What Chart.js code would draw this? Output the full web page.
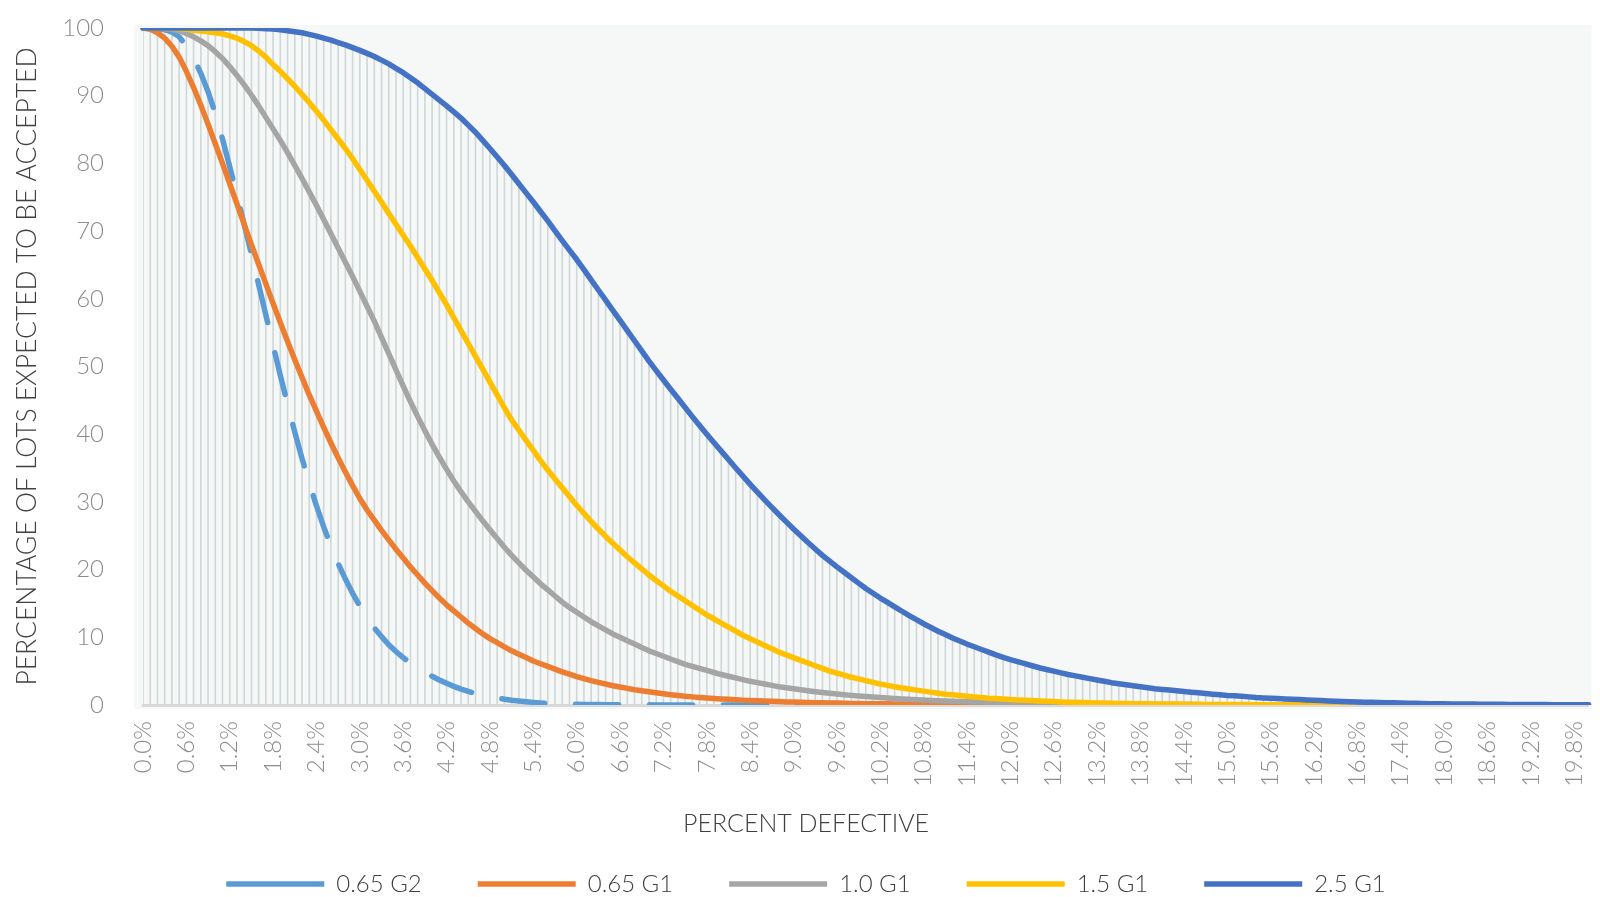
<!DOCTYPE html>
<html>
<head>
<meta charset="utf-8">
<script src="https://cdn.jsdelivr.net/npm/chart.js@4/dist/chart.umd.min.js"></script>
<style>
html,body{margin:0;padding:0;overflow:hidden;background:#ffffff;}
#wrap{width:1600px;height:897px;overflow:hidden;}
canvas{display:block;}
</style>
</head>
<body>
<div id="wrap"><canvas id="c" width="1603" height="906"></canvas></div>
<script>
const categories = [
"0.0%","0.1%","0.2%","0.3%","0.4%","0.5%","0.6%","0.7%","0.8%","0.9%",
"1.0%","1.1%","1.2%","1.3%","1.4%","1.5%","1.6%","1.7%","1.8%","1.9%",
"2.0%","2.1%","2.2%","2.3%","2.4%","2.5%","2.6%","2.7%","2.8%","2.9%",
"3.0%","3.1%","3.2%","3.3%","3.4%","3.5%","3.6%","3.7%","3.8%","3.9%",
"4.0%","4.1%","4.2%","4.3%","4.4%","4.5%","4.6%","4.7%","4.8%","4.9%",
"5.0%","5.1%","5.2%","5.3%","5.4%","5.5%","5.6%","5.7%","5.8%","5.9%",
"6.0%","6.1%","6.2%","6.3%","6.4%","6.5%","6.6%","6.7%","6.8%","6.9%",
"7.0%","7.1%","7.2%","7.3%","7.4%","7.5%","7.6%","7.7%","7.8%","7.9%",
"8.0%","8.1%","8.2%","8.3%","8.4%","8.5%","8.6%","8.7%","8.8%","8.9%",
"9.0%","9.1%","9.2%","9.3%","9.4%","9.5%","9.6%","9.7%","9.8%","9.9%",
"10.0%","10.1%","10.2%","10.3%","10.4%","10.5%","10.6%","10.7%","10.8%","10.9%",
"11.0%","11.1%","11.2%","11.3%","11.4%","11.5%","11.6%","11.7%","11.8%","11.9%",
"12.0%","12.1%","12.2%","12.3%","12.4%","12.5%","12.6%","12.7%","12.8%","12.9%",
"13.0%","13.1%","13.2%","13.3%","13.4%","13.5%","13.6%","13.7%","13.8%","13.9%",
"14.0%","14.1%","14.2%","14.3%","14.4%","14.5%","14.6%","14.7%","14.8%","14.9%",
"15.0%","15.1%","15.2%","15.3%","15.4%","15.5%","15.6%","15.7%","15.8%","15.9%",
"16.0%","16.1%","16.2%","16.3%","16.4%","16.5%","16.6%","16.7%","16.8%","16.9%",
"17.0%","17.1%","17.2%","17.3%","17.4%","17.5%","17.6%","17.7%","17.8%","17.9%",
"18.0%","18.1%","18.2%","18.3%","18.4%","18.5%","18.6%","18.7%","18.8%","18.9%",
"19.0%","19.1%","19.2%","19.3%","19.4%","19.5%","19.6%","19.7%","19.8%","19.9%",
"20.0%"
];

const seriesNames = ["0.65 G2", "0.65 G1", "1.0 G1", "1.5 G1", "2.5 G1"];

const aql065G2 = [
100,100,99.9,99.75,99.4,98.7,97.4,95.6,93.3,90.6,
87.4,83.6,79.5,75.3,71.0,66.6,62.1,57.6,53.1,48.7,
44.4,40.3,36.4,32.8,29.4,26.3,23.5,20.9,18.6,16.5,
14.6,12.9,11.4,10.1,8.9,7.9,7.0,6.2,5.5,4.85,
4.25,3.7,3.2,2.75,2.35,2.0,1.7,1.45,1.22,1.02,
0.85,0.7,0.58,0.47,0.38,0.31,0.25,0.2,0.16,0.13,
0.1,0.08,0.07,0.06,0.05,0.04,0.03,0.03,0.02,0.02,
0.02,0.01,0.01,0.01,0.01,0.01,0.01,0.01,0.01,0.01,
0.01,0,0,0,0,0,0,0,0,0,
0,0,0,0,0,0,0,0,0,0,
0,0,0,0,0,0,0,0,0,0,
0,0,0,0,0,0,0,0,0,0,
0,0,0,0,0,0,0,0,0,0,
0,0,0,0,0,0,0,0,0,0,
0,0,0,0,0,0,0,0,0,0,
0,0,0,0,0,0,0,0,0,0,
0,0,0,0,0,0,0,0,0,0,
0,0,0,0,0,0,0,0,0,0,
0,0,0,0,0,0,0,0,0,0,
0,0,0,0,0,0,0,0,0,0,
0
];

const aql065G1 = [
100,99.8,99.3,98.5,97.3,95.7,93.6,91.2,88.6,85.8,
82.9,80.0,77.0,74.0,71.0,68.0,65.1,62.2,59.3,56.5,
53.7,51.0,48.4,45.8,43.4,41.0,38.7,36.5,34.4,32.4,
30.5,28.8,27.3,25.8,24.4,23.0,21.7,20.4,19.2,18.0,
16.9,15.8,14.8,13.9,13.0,12.1,11.3,10.5,9.8,9.2,
8.6,8.0,7.5,7.0,6.5,6.1,5.7,5.3,4.9,4.55,
4.2,3.9,3.6,3.35,3.1,2.85,2.65,2.45,2.25,2.1,
1.95,1.8,1.65,1.52,1.4,1.3,1.2,1.12,1.04,0.97,
0.9,0.84,0.78,0.72,0.67,0.62,0.58,0.54,0.5,0.46,
0.43,0.4,0.37,0.34,0.32,0.3,0.28,0.26,0.24,0.22,
0.2,0.19,0.18,0.17,0.16,0.15,0.14,0.13,0.12,0.11,
0.1,0.1,0.09,0.09,0.08,0.08,0.07,0.07,0.06,0.06,
0.05,0.05,0.05,0.04,0.04,0.04,0.03,0.03,0.03,0.03,
0.02,0.02,0.02,0.02,0.02,0.02,0.02,0.02,0.02,0.02,
0.02,0.01,0.01,0.01,0.01,0.01,0.01,0.01,0.01,0.01,
0.01,0.01,0.01,0.01,0.01,0.01,0.01,0.01,0.01,0.01,
0,0,0,0,0,0,0,0,0,0,
0,0,0,0,0,0,0,0,0,0,
0,0,0,0,0,0,0,0,0,0,
0,0,0,0,0,0,0,0,0,0,
0
];

const aql10G1 = [
100,100,99.98,99.9,99.8,99.6,99.2,98.7,98.1,97.4,
96.5,95.5,94.3,93.0,91.6,90.1,88.5,86.8,85.1,83.4,
81.6,79.7,77.8,75.8,73.8,71.7,69.6,67.5,65.4,63.3,
61.1,58.9,56.7,54.3,51.9,49.5,47.1,44.8,42.6,40.5,
38.5,36.6,34.8,33.1,31.5,30.0,28.6,27.2,25.9,24.6,
23.3,22.1,21.0,19.9,18.9,17.9,17.0,16.1,15.2,14.4,
13.7,13.0,12.3,11.7,11.1,10.5,10.0,9.5,9.0,8.5,
8.0,7.6,7.2,6.8,6.4,6.0,5.7,5.4,5.1,4.8,
4.5,4.25,4.0,3.75,3.5,3.3,3.1,2.9,2.7,2.55,
2.4,2.25,2.1,1.97,1.85,1.73,1.62,1.52,1.42,1.33,
1.25,1.17,1.1,1.03,0.96,0.9,0.84,0.78,0.73,0.68,
0.64,0.6,0.56,0.52,0.49,0.46,0.43,0.4,0.37,0.35,
0.33,0.31,0.29,0.27,0.25,0.23,0.22,0.2,0.19,0.18,
0.17,0.16,0.15,0.14,0.13,0.12,0.11,0.1,0.1,0.09,
0.08,0.08,0.07,0.07,0.06,0.06,0.05,0.05,0.05,0.04,
0.04,0.04,0.03,0.03,0.03,0.03,0.02,0.02,0.02,0.02,
0.02,0.02,0.01,0.01,0.01,0.01,0.01,0.01,0.01,0.01,
0.01,0.01,0.01,0.01,0.01,0,0,0,0,0,
0,0,0,0,0,0,0,0,0,0,
0,0,0,0,0,0,0,0,0,0,
0
];

const aql15G1 = [
100,100,100,100,99.95,99.9,99.8,99.65,99.55,99.45,
99.3,99.15,98.85,98.5,98.0,97.4,96.6,95.7,94.6,93.6,
92.5,91.4,90.2,89.0,87.7,86.4,85.0,83.6,82.2,80.7,
79.1,77.5,75.9,74.3,72.6,71.0,69.4,67.8,66.1,64.4,
62.7,60.9,59.1,57.2,55.3,53.4,51.5,49.6,47.7,45.8,
43.9,42.1,40.6,39.1,37.6,36.1,34.7,33.4,32.1,30.8,
29.5,28.3,27.1,26.0,24.9,23.9,22.9,21.9,21.0,20.1,
19.2,18.4,17.6,16.8,16.1,15.4,14.7,14.0,13.3,12.7,
12.1,11.5,10.9,10.3,9.8,9.3,8.8,8.3,7.8,7.4,
7.0,6.6,6.2,5.8,5.4,5.0,4.7,4.4,4.1,3.85,
3.6,3.35,3.1,2.9,2.7,2.5,2.35,2.2,2.05,1.9,
1.75,1.6,1.5,1.4,1.3,1.2,1.1,1.0,0.95,0.9,
0.8,0.75,0.7,0.65,0.6,0.55,0.5,0.45,0.42,0.39,
0.36,0.33,0.3,0.28,0.26,0.24,0.22,0.2,0.19,0.17,
0.16,0.15,0.14,0.13,0.12,0.11,0.1,0.09,0.09,0.08,
0.07,0.07,0.06,0.06,0.05,0.05,0.05,0.04,0.04,0.04,
0.03,0.03,0.03,0.03,0.03,0.02,0.02,0.02,0.02,0.02,
0.02,0.02,0.01,0.01,0.01,0.01,0.01,0.01,0.01,0.01,
0.01,0.01,0.01,0.01,0.01,0.01,0.01,0.01,0.01,0.01,
0.01,0,0,0,0,0,0,0,0,0,
0
];

const aql25G1 = [
100,100,100,100,100,100,100,100,100,100,
100,100,100,100,100,100,99.95,99.9,99.85,99.75,
99.6,99.45,99.3,99.05,98.8,98.5,98.2,97.85,97.5,97.1,
96.7,96.25,95.8,95.25,94.7,94.05,93.4,92.65,91.9,91.05,
90.2,89.35,88.5,87.6,86.7,85.65,84.6,83.4,82.2,80.95,
79.7,78.35,77.0,75.65,74.3,72.9,71.5,70.05,68.6,67.2,
65.8,64.3,62.8,61.3,59.8,58.3,56.8,55.3,53.8,52.3,
50.8,49.4,48.0,46.65,45.3,43.95,42.6,41.3,40.0,38.75,
37.5,36.25,35.0,33.8,32.6,31.45,30.3,29.2,28.1,27.05,
26.0,25.0,24.0,23.05,22.1,21.25,20.4,19.6,18.8,18.0,
17.2,16.5,15.8,15.15,14.5,13.85,13.2,12.6,12.0,11.45,
10.9,10.4,9.9,9.45,9.0,8.6,8.2,7.8,7.4,7.05,
6.7,6.4,6.1,5.8,5.5,5.25,5.0,4.75,4.5,4.3,
4.1,3.9,3.7,3.5,3.3,3.15,3.0,2.85,2.7,2.55,
2.4,2.3,2.2,2.1,2.0,1.9,1.8,1.7,1.6,1.5,
1.4,1.35,1.3,1.2,1.1,1.05,1.0,0.95,0.9,0.85,
0.8,0.75,0.7,0.65,0.6,0.55,0.5,0.47,0.45,0.42,
0.4,0.37,0.35,0.32,0.3,0.27,0.25,0.22,0.2,0.19,
0.18,0.16,0.15,0.14,0.13,0.12,0.11,0.1,0.1,0.09,
0.08,0.08,0.07,0.06,0.06,0.05,0.05,0.04,0.04,0.03,
0.03
];

const seriesColors = ["#5B9BD5", "#ED7D31", "#A5A5A5", "#FFC000", "#4472C4"];
const labelEvery = 6;

Chart.defaults.font.family = "Lato, 'Open Sans', 'Liberation Sans', sans-serif";
Chart.defaults.font.weight = 300;

const plotBackground = {
  id: 'plotBackground',
  beforeDraw(chart) {
    const {ctx, chartArea: a} = chart;
    ctx.save();
    ctx.fillStyle = '#f6f8f8';
    ctx.fillRect(a.left - 9, a.top - 3, a.right - a.left + 12, a.bottom - a.top + 7);
    ctx.restore();
  }
};

function lineSet(idx, data, order, extra) {
  return Object.assign({
    type: 'line',
    label: seriesNames[idx],
    data: data,
    borderColor: seriesColors[idx],
    backgroundColor: seriesColors[idx],
    borderWidth: 5.5,
    borderCapStyle: 'round',
    borderJoinStyle: 'round',
    pointRadius: 0,
    pointHoverRadius: 0,
    tension: 0,
    fill: false,
    order: order
  }, extra || {});
}

new Chart(document.getElementById('c'), {
  type: 'line',
  data: {
    labels: categories,
    datasets: [
      lineSet(0, aql065G2, 5, {borderDash: [43, 31]}),
      lineSet(1, aql065G1, 4),
      lineSet(2, aql10G1, 3),
      lineSet(3, aql15G1, 2),
      lineSet(4, aql25G1, 1),
      {
        type: 'bar',
        label: 'drop lines',
        data: aql25G1,
        backgroundColor: '#cfd8d8',
        borderWidth: 0,
        barThickness: 1,
        order: 10
      }
    ]
  },
  options: {
    responsive: false,
    animation: false,
    events: [],
    layout: {padding: {left: 11, right: 2, top: 28, bottom: 0}},
    scales: {
      x: {
        offset: false,
        grid: {display: true, offset: false, drawOnChartArea: false, drawTicks: true, tickLength: 16, tickColor: 'rgba(0,0,0,0)'},
        border: {display: true, color: '#d9d9d9', width: 3},
        ticks: {
          autoSkip: false,
          minRotation: 90,
          maxRotation: 90,
          padding: 0,
          color: '#8c8c8c',
          font: {size: 24, weight: 300},
          callback: (v, i) => (i % labelEvery === 0 ? categories[i] : null)
        },
        afterFit: s => { s.height = 106; }
      },
      y: {
        min: 0,
        max: 100,
        ticks: {stepSize: 10, padding: 0, color: '#8c8c8c', font: {size: 24, weight: 300}},
        grid: {display: true, drawOnChartArea: false, drawTicks: true, tickLength: 39, tickColor: 'rgba(0,0,0,0)'},
        border: {display: false},
        title: {
          display: true,
          text: 'PERCENTAGE OF LOTS EXPECTED TO BE ACCEPTED',
          color: '#404040',
          font: {size: 26.5, weight: 300, lineHeight: 0.2},
          padding: {top: 13.35, bottom: 0}
        },
        afterFit: s => { s.width = 132; }
      }
    },
    plugins: {
      legend: {
        position: 'bottom',
        title: {
          display: true,
          text: 'PERCENT DEFECTIVE',
          color: '#404040',
          font: {size: 25, weight: 300, lineHeight: 0.2},
          padding: 0
        },
        labels: {
          usePointStyle: true,
          pointStyle: 'line',
          pointStyleWidth: 98,
          padding: 56,
          color: '#404040',
          font: {size: 24, weight: 300},
          filter: item => item.datasetIndex < seriesNames.length,
          sort: (a, b) => a.datasetIndex - b.datasetIndex,
          generateLabels: chart => {
            const items = Chart.defaults.plugins.legend.labels.generateLabels(chart);
            items.forEach(it => { if (it.datasetIndex === 0) it.lineDashOffset = 24; });
            return items;
          }
        }
      },
      tooltip: {enabled: false}
    }
  },
  plugins: [plotBackground]
});
</script>
</body>
</html>
